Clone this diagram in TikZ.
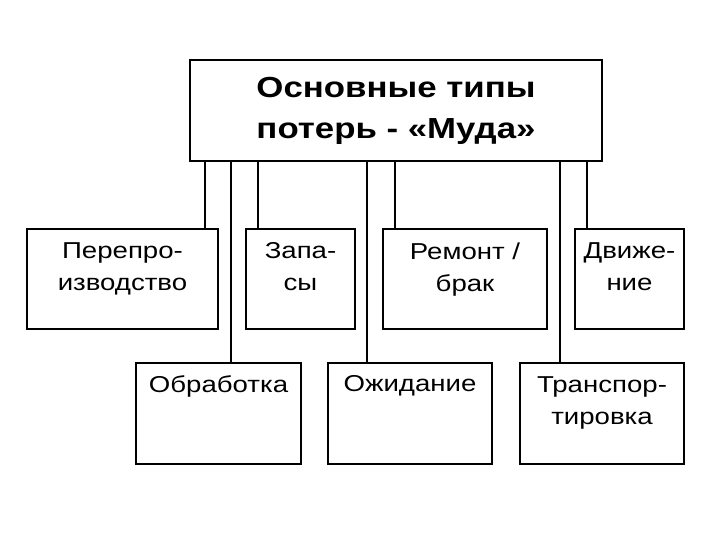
\documentclass[tikz,border=0pt]{standalone}
\usepackage{fontspec}
\setmainfont{Liberation Sans}
\newfontfamily\widefont[FakeStretch=1.2]{Liberation Sans}
\begin{document}
\begin{tikzpicture}[x=1pt,y=-1pt,
  frame/.style={draw=black,line width=2pt,fill=white,inner sep=0pt,anchor=north west},
  lbl/.style={anchor=north,inner sep=0pt,align=center,font=\widefont\fontsize{23}{32}\selectfont},
  ttl/.style={anchor=north,inner sep=0pt,align=center,font=\widefont\bfseries\fontsize{29}{41.5}\selectfont},
  conn/.style={draw=black,line width=2pt}]
\useasboundingbox (0,0) rectangle (720,540);
\fill[white] (0,0) rectangle (720,540);
% connectors' x positions
\coordinate (x1) at (205,0);
\coordinate (x2) at (231,0);
\coordinate (x3) at (258,0);
\coordinate (x4) at (367,0);
\coordinate (x5) at (395,0);
\coordinate (x6) at (560,0);
\coordinate (x7) at (587,0);
% boxes
\node[frame,minimum width=412pt,minimum height=101pt] (top) at (189,59) {};
\node[frame,minimum width=191pt,minimum height=100pt] (pp) at (26,228) {};
\node[frame,minimum width=109pt,minimum height=100pt] (zap) at (245,228) {};
\node[frame,minimum width=164pt,minimum height=100pt] (rem) at (382,228) {};
\node[frame,minimum width=109pt,minimum height=100pt] (dv) at (574,228) {};
\node[frame,minimum width=165pt,minimum height=101pt] (obr) at (135,362) {};
\node[frame,minimum width=164pt,minimum height=101pt] (ozh) at (327,362) {};
\node[frame,minimum width=164pt,minimum height=101pt] (tr) at (519,362) {};
% connectors
\draw[conn] (top.south -| x1) -- (pp.north -| x1);
\draw[conn] (top.south -| x2) -- (obr.north -| x2);
\draw[conn] (top.south -| x3) -- (zap.north -| x3);
\draw[conn] (top.south -| x4) -- (ozh.north -| x4);
\draw[conn] (top.south -| x5) -- (rem.north -| x5);
\draw[conn] (top.south -| x6) -- (tr.north -| x6);
\draw[conn] (top.south -| x7) -- (dv.north -| x7);
% texts
\node[ttl] (top-t) at ([yshift=-18pt]top.north) {Основные типы\\потерь - «Муда»};
\node[lbl] (pp-t) at ([yshift=-14.5pt]pp.north) {Перепро-\\изводство};
\node[lbl] (zap-t) at ([yshift=-14.5pt]zap.north) {Запа-\\сы};
\node[lbl] (rem-t) at ([yshift=-14.5pt]rem.north) {Ремонт /\\брак};
\node[lbl] (dv-t) at ([yshift=-14.5pt]dv.north) {Движе-\\ние};
\node[lbl] (obr-t) at ([yshift=-13pt]obr.north) {Обработка};
\node[lbl] (ozh-t) at ([yshift=-13pt]ozh.north) {Ожидание};
\node[lbl] (tr-t) at ([yshift=-14.5pt]tr.north) {Транспор-\\тировка};
\end{tikzpicture}
\end{document}
